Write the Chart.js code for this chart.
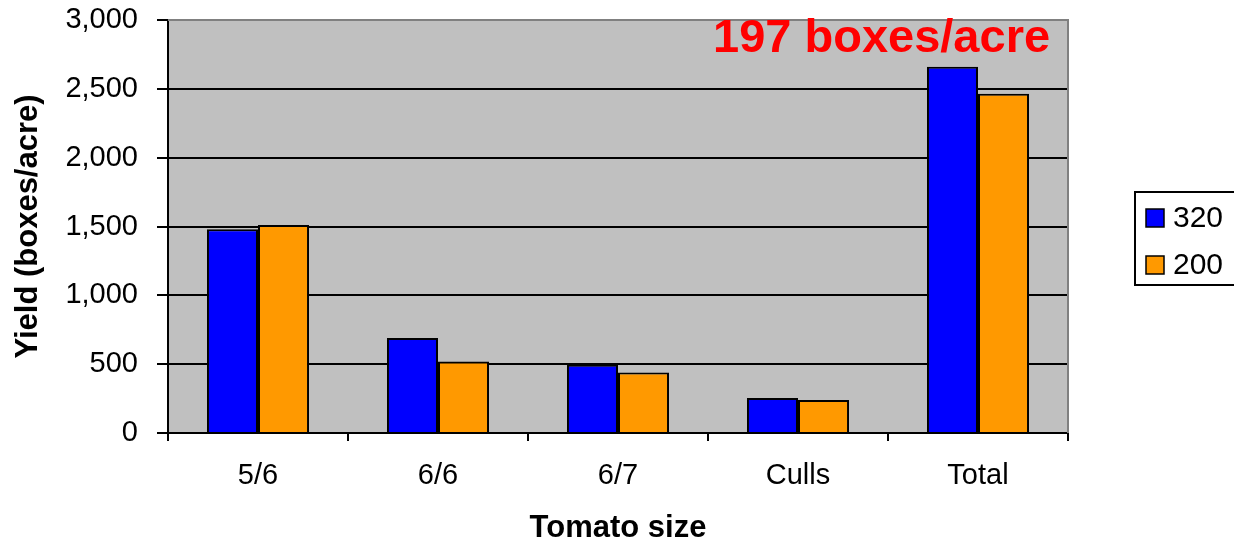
<!DOCTYPE html>
<html>
<head>
<meta charset="utf-8">
<script src="https://cdn.jsdelivr.net/npm/chart.js@4/dist/chart.umd.min.js"></script>
<style>
  html, body { margin: 0; padding: 0; background: #fff; }
  #wrap { width: 1234px; height: 547px; }
</style>
</head>
<body>
<div id="wrap"><canvas id="chYield"></canvas></div>
<script>
// Datos
const categorias = ["5/6", "6/6", "6/7", "Culls", "Total"];
const serie320 = [1480, 690, 495, 255, 2660];
const serie200 = [1510, 520, 440, 240, 2465];
const etiquetas = ["320", "200"];
const nota = "197 boxes/acre";

const FUENTE = "'Liberation Sans', Arial, sans-serif";

// Fondo gris del area de trazado, borde gris y nota en rojo
const fondoPlot = {
  id: "fondoPlot",
  beforeDraw(chart) {
    const { ctx, chartArea: a } = chart;
    ctx.save();
    ctx.fillStyle = "#C0C0C0";
    ctx.fillRect(a.left, a.top, a.right - a.left, a.bottom - a.top);
    ctx.restore();
  },
  afterDatasetsDraw(chart) {
    const { ctx, chartArea: a } = chart;
    ctx.save();
    ctx.strokeStyle = "#808080";
    ctx.lineWidth = 2;
    ctx.beginPath();
    ctx.moveTo(a.left, a.top);
    ctx.lineTo(a.right, a.top);
    ctx.lineTo(a.right, a.bottom);
    ctx.stroke();
    ctx.fillStyle = "#FF0000";
    ctx.font = "bold 47px " + FUENTE;
    ctx.textBaseline = "alphabetic";
    ctx.textAlign = "left";
    ctx.fillText(nota, 713, 52);
    ctx.restore();
  },
};

// Leyenda con recuadro a la derecha
const leyendaCaja = {
  id: "leyendaCaja",
  afterDraw(chart) {
    const { ctx } = chart;
    ctx.save();
    ctx.strokeStyle = "#000";
    ctx.lineWidth = 2;
    ctx.strokeRect(1135, 192, 120, 93);
    ctx.font = "30px " + FUENTE;
    ctx.textBaseline = "middle";
    chart.data.datasets.forEach((ds, i) => {
      const y = 209 + i * 47;
      ctx.fillStyle = ds.backgroundColor;
      ctx.fillRect(1146, y, 18, 18);
      ctx.lineWidth = 1.5;
      ctx.strokeRect(1146, y, 18, 18);
      ctx.fillStyle = "#000";
      ctx.fillText(ds.label, 1173, y + 10);
    });
    ctx.restore();
  },
};

new Chart(document.getElementById("chYield"), {
  type: "bar",
  data: {
    labels: categorias,
    datasets: [
      { label: etiquetas[0], data: serie320, backgroundColor: "#0000FF", borderColor: "#000", borderWidth: 2 },
      { label: etiquetas[1], data: serie200, backgroundColor: "#FF9900", borderColor: "#000", borderWidth: 2 },
    ],
  },
  options: {
    responsive: true,
    maintainAspectRatio: false,
    animation: false,
    layout: { padding: { top: 20, right: 166, left: 0, bottom: 0 } },
    datasets: { bar: { barPercentage: 1, categoryPercentage: 0.567 } },
    plugins: { legend: { display: false }, tooltip: { enabled: false } },
    scales: {
      x: {
        afterFit(scale) { scale.height = 114; scale.paddingLeft = 0; scale.paddingRight = 0; },
        grid: { drawOnChartArea: false, color: "#000", lineWidth: 2, tickLength: 8, offset: true },
        border: { color: "#000", width: 2 },
        ticks: { color: "#000", font: { family: FUENTE, size: 29 }, padding: 18 },
        title: { display: true, text: "Tomato size", color: "#000", font: { family: FUENTE, size: 31, weight: "bold" }, padding: { top: 0, bottom: 0 } },
      },
      y: {
        min: 0,
        max: 3000,
        afterFit(scale) { scale.width = 168; scale.paddingTop = 0; scale.paddingBottom = 0; },
        grid: { color: "#000", lineWidth: 2, tickLength: 11 },
        border: { color: "#000", width: 2 },
        ticks: {
          stepSize: 500,
          color: "#000",
          font: { family: FUENTE, size: 29 },
          padding: 19,
          callback: v => v.toLocaleString("en-US"),
        },
        title: { display: true, text: "Yield (boxes/acre)", color: "#000", font: { family: FUENTE, size: 31, weight: "bold" }, padding: { top: 10, bottom: 0 } },
      },
    },
  },
  plugins: [fondoPlot, leyendaCaja],
});
</script>
</body>
</html>
